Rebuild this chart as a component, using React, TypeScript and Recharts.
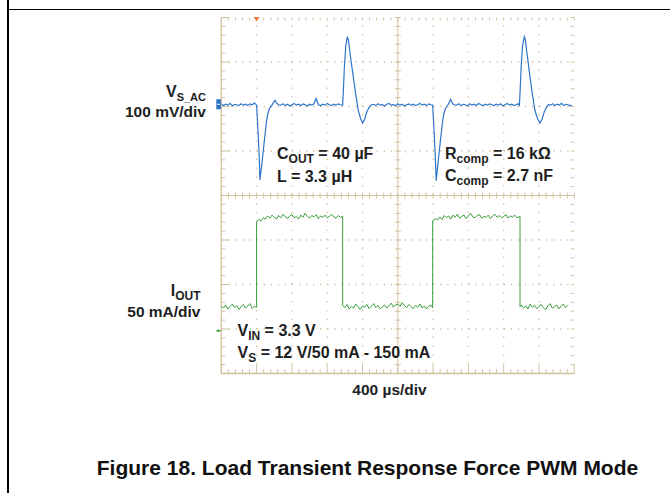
import React from 'react';
import { LineChart, Line, XAxis, YAxis, ReferenceLine, ReferenceDot } from 'recharts';

// Time axis in microseconds (400 µs/div, 10 div); vertical axis in screen divisions (8 div)
const timeDivTicks = [0, 400, 800, 1200, 1600, 2000, 2400, 2800, 3200, 3600, 4000];
const screenDivTicks = [-4, -3, -2, -1, 0, 1, 2, 3, 4];

// V_S_AC trace (100 mV/div), position in divisions
const vsAcTime = [
  0, 25, 50, 75, 100, 125, 150, 175, 200, 225, 250, 275, 300, 325, 350, 375, 400,
  412, 427, 438, 457, 476, 495, 514, 530, 544, 560, 575, 590, 608, 625, 646,
  675, 700, 725, 750, 775, 800, 825, 850, 875, 900, 925, 950, 975, 1000, 1025, 1050, 1075, 1100, 1125, 1150,
  1175, 1200, 1225, 1250, 1275, 1300, 1325, 1350, 1375,
  1383, 1395, 1410, 1428, 1440, 1465, 1496, 1525, 1552, 1580, 1602, 1625, 1650, 1675, 1704,
  1725, 1750, 1775, 1800, 1825, 1850, 1875, 1900, 1925, 1950, 1975, 2000, 2025, 2050, 2075, 2100, 2125,
  2150, 2175, 2200, 2225, 2250, 2275, 2300, 2325, 2350, 2375,
  2395, 2407, 2422, 2435, 2452, 2471, 2490, 2509, 2525, 2539, 2555, 2572, 2599, 2620, 2640,
  2665, 2690, 2715, 2740, 2765, 2790, 2815, 2840, 2865, 2890, 2915, 2940, 2965, 2990, 3015, 3040, 3065,
  3090, 3115, 3140, 3165, 3190, 3215, 3240, 3265, 3290, 3315, 3340, 3365, 3378,
  3386, 3398, 3413, 3433, 3445, 3470, 3498, 3527, 3554, 3585, 3611, 3635, 3660, 3685, 3705,
  3730, 3755, 3780, 3805, 3830, 3855, 3880, 3905, 3930, 3955, 3970,
];
const vsAcValue = [
  2.06, 2.02, 2.05, 2.03, 2.07, 2.01, 2.05, 2.04, 2.02, 2.06, 2.03, 2.05, 2.02, 2.06, 2.04, 2.08, 2.03,
  1.6, 1.0, 0.35, 0.67, 1.01, 1.36, 1.69, 1.86, 1.95, 2.0, 2.03, 2.09, 2.14, 2.08, 2.04,
  2.03, 2.06, 2.02, 2.05, 2.01, 2.04, 2.07, 2.03, 2.05, 2.02, 2.06, 2.04, 2.01, 2.05, 2.03, 2.06, 2.18, 2.04, 2.02, 2.05,
  2.03, 2.07, 2.04, 2.02, 2.05, 2.03, 2.06, 2.04, 2.03,
  2.35, 2.9, 3.35, 3.57, 3.5, 3.1, 2.66, 2.25, 1.91, 1.72, 1.63, 1.72, 1.88, 1.98, 2.04,
  2.05, 2.02, 2.06, 2.03, 2.04, 2.01, 2.05, 2.07, 2.03, 2.04, 2.02, 2.06, 2.03, 2.05, 2.01, 2.04, 2.06,
  2.03, 2.05, 2.02, 2.04, 2.07, 2.03, 2.05, 2.02, 2.06, 2.04,
  2.03, 1.6, 1.0, 0.33, 0.67, 1.01, 1.36, 1.69, 1.86, 1.95, 2.0, 2.05, 2.16, 2.06, 2.04,
  2.03, 2.06, 2.02, 2.05, 2.04, 2.01, 2.06, 2.03, 2.05, 2.02, 2.07, 2.04, 2.02, 2.05, 2.03, 2.06, 2.04,
  2.02, 2.05, 2.03, 2.06, 2.01, 2.04, 2.07, 2.03, 2.05, 2.02, 2.04, 2.06, 2.03,
  2.35, 2.9, 3.35, 3.57, 3.5, 3.1, 2.66, 2.25, 1.91, 1.72, 1.63, 1.72, 1.88, 1.98, 2.04,
  2.03, 2.06, 2.02, 2.05, 2.03, 2.07, 2.02, 2.05, 2.04, 2.01, 2.04,
];

// I_OUT trace (50 mA/div), position in divisions
const iOutTime = [
  0, 25, 50, 75, 100, 125, 150, 175, 200, 225, 250, 275, 300, 325, 350, 375, 400,
  400, 425, 450, 475, 500, 525, 550, 575, 600, 625, 650, 675, 700, 725, 750, 775, 800, 825, 850, 875,
  900, 925, 950, 975, 1000, 1025, 1050, 1075, 1100, 1125, 1150, 1175, 1200, 1225, 1250, 1275, 1300, 1325, 1350, 1375,
  1375, 1400, 1425, 1450, 1475, 1500, 1525, 1550, 1575, 1600, 1625, 1650, 1675, 1700, 1725, 1750, 1775, 1800,
  1825, 1850, 1875, 1900, 1925, 1950, 1975, 2000, 2025, 2050, 2075, 2100, 2125, 2150, 2175, 2200, 2225, 2250,
  2275, 2300, 2325, 2350, 2375, 2395,
  2395, 2425, 2450, 2475, 2500, 2525, 2550, 2575, 2600, 2625, 2650, 2675, 2700, 2725, 2750, 2775, 2800, 2825,
  2850, 2875, 2900, 2925, 2950, 2975, 3000, 3025, 3050, 3075, 3100, 3125, 3150, 3175, 3200, 3225, 3250, 3275,
  3300, 3325, 3350, 3385,
  3385, 3400, 3425, 3450, 3475, 3500, 3525, 3550, 3575, 3600, 3625, 3650, 3675, 3700, 3725, 3750, 3775, 3800,
  3825, 3850, 3875, 3900, 3925,
];
const iOutValue = [
  -2.48, -2.53, -2.46, -2.55, -2.49, -2.44, -2.52, -2.47, -2.56, -2.5, -2.45, -2.53, -2.48, -2.43, -2.54, -2.49, -2.51,
  -0.58, -0.54, -0.57, -0.5, -0.53, -0.46, -0.51, -0.44, -0.49, -0.53, -0.45, -0.5, -0.42, -0.48, -0.52, -0.46, -0.43, -0.5, -0.47, -0.53,
  -0.44, -0.49, -0.4, -0.47, -0.51, -0.45, -0.48, -0.43, -0.52, -0.46, -0.49, -0.44, -0.5, -0.47, -0.42, -0.48, -0.51, -0.45, -0.49, -0.47,
  -2.47, -2.52, -2.45, -2.55, -2.49, -2.53, -2.44, -2.5, -2.56, -2.48, -2.51, -2.45, -2.54, -2.49, -2.43, -2.52, -2.47, -2.55,
  -2.5, -2.46, -2.53, -2.48, -2.42, -2.51, -2.46, -2.44, -2.49, -2.41, -2.47, -2.52, -2.45, -2.5, -2.54, -2.47, -2.51, -2.44,
  -2.53, -2.48, -2.55, -2.49, -2.46, -2.52,
  -0.57, -0.52, -0.55, -0.48, -0.54, -0.45, -0.5, -0.46, -0.53, -0.44, -0.49, -0.42, -0.51, -0.47, -0.44, -0.52, -0.46, -0.4,
  -0.48, -0.5, -0.45, -0.43, -0.51, -0.47, -0.49, -0.44, -0.52, -0.46, -0.42, -0.49, -0.45, -0.5, -0.47, -0.43, -0.51, -0.46,
  -0.48, -0.44, -0.5, -0.47,
  -2.5, -2.46, -2.53, -2.48, -2.55, -2.44, -2.51, -2.47, -2.54, -2.49, -2.45, -2.52, -2.57, -2.48, -2.43, -2.53, -2.5, -2.46,
  -2.55, -2.49, -2.44, -2.52, -2.47,
];

const vsAcData = vsAcTime.map((t, i) => ({ t, v: vsAcValue[i] }));
const iOutData = iOutTime.map((t, i) => ({ t, v: iOutValue[i] }));

// plot geometry
const W = 670;
const H = 493;
const PL = 221.3, PR = 574.3, PT = 17.5, PB = 373.5;
const usPerPx = 4000 / (PR - PL);
const divPerPx = 8 / (PB - PT);

const GRID = '#d0c3a0';
const DOT = '#cdc09c';
const minorT = Array.from({ length: 51 }, (_, i) => i * 80);
const minorV = Array.from({ length: 41 }, (_, i) => Math.round((-4 + i * 0.2) * 10) / 10);
const isMajT = (t: number) => t % 400 === 0;
const isMajV = (v: number) => Math.abs(v - Math.round(v)) < 1e-6;

type Seg = [{ x: number; y: number }, { x: number; y: number }];
const tickSegs: Seg[] = [];
minorT.forEach((t) => {
  tickSegs.push([{ x: t, y: -4 }, { x: t, y: -4 + (isMajT(t) ? 9 : 4.3) * divPerPx }]);
  tickSegs.push([{ x: t, y: 4 }, { x: t, y: 4 - 3 * divPerPx }]);
  tickSegs.push([{ x: t, y: -3 * divPerPx }, { x: t, y: 3 * divPerPx }]);
});
minorV.forEach((v) => {
  tickSegs.push([{ x: 0, y: v }, { x: (isMajV(v) ? 8 : 4) * usPerPx, y: v }]);
  tickSegs.push([{ x: 4000, y: v }, { x: 4000 - 3.5 * usPerPx, y: v }]);
  tickSegs.push([{ x: 2000 - 3 * usPerPx, y: v }, { x: 2000 + 3 * usPerPx, y: v }]);
});

const dottedT = timeDivTicks.filter((t) => t !== 0 && t !== 2000 && t !== 4000);
const dottedV = screenDivTicks.filter((v) => v !== 0 && v !== 4 && v !== -4);

const FONT = '"Liberation Sans", Arial, Helvetica, sans-serif';
const TXT = '#1e1e1e';

const TriggerMark = (p: any) => (
  <polygon points={`${p.cx - 3},${p.cy - 0.5} ${p.cx + 3},${p.cy - 0.5} ${p.cx},${p.cy + 4}`} fill="#f07a3c" />
);
const BlueMark = (p: any) => (
  <g>
    <rect x={p.cx - 5} y={p.cy - 5} width={4.6} height={10} fill="#2f6fc2" />
    <line x1={p.cx - 4.2} x2={p.cx - 1.2} y1={p.cy} y2={p.cy} stroke="#fff" strokeWidth={1} />
  </g>
);
const GreenMark = (p: any) => (
  <g>
    <line x1={p.cx - 5} x2={p.cx} y1={p.cy} y2={p.cy} stroke="#3a9c3a" strokeWidth={1} />
    <circle cx={p.cx - 3} cy={p.cy} r={1.3} fill="#3a9c3a" />
  </g>
);

export default function App() {
  return (
    <div style={{ position: 'absolute', left: 0, top: 0, width: W, height: H, background: '#fff', overflow: 'hidden' }}>
      <div style={{ position: 'absolute', left: 7.3, top: 0, width: 1.5, height: H, background: '#000' }} />
      <div style={{ position: 'absolute', left: 7.3, top: 8.9, width: W - 7.3, height: 1.5, background: '#000' }} />
      <div style={{ position: 'absolute', left: 0, top: 0 }}>
        <LineChart width={W} height={H} margin={{ top: PT, left: PL, right: W - PR, bottom: H - PB }}>
          <XAxis type="number" dataKey="t" domain={[0, 4000]} ticks={timeDivTicks} hide allowDataOverflow />
          <YAxis type="number" domain={[-4, 4]} ticks={screenDivTicks} hide allowDataOverflow />
          {dottedT.map((t) => (
            <ReferenceLine key={'dt' + t} x={t} stroke={DOT} strokeWidth={1.3} strokeDasharray="1.3 7.6" ifOverflow="visible" />
          ))}
          {dottedV.map((v) => (
            <ReferenceLine key={'dv' + v} y={v} stroke={DOT} strokeWidth={1.3} strokeDasharray="1.3 5.76" ifOverflow="visible" />
          ))}
          <ReferenceLine x={0} stroke={GRID} strokeWidth={1.3} ifOverflow="visible" />
          <ReferenceLine y={-4} stroke={GRID} strokeWidth={1.3} ifOverflow="visible" />
          <ReferenceLine x={2000} stroke={GRID} strokeWidth={1} ifOverflow="visible" />
          <ReferenceLine y={0} stroke={GRID} strokeWidth={1} ifOverflow="visible" />
          {tickSegs.map((s, i) => (
            <ReferenceLine key={'tk' + i} segment={s} stroke={GRID} strokeWidth={1} ifOverflow="visible" />
          ))}
          <Line data={iOutData} dataKey="v" type="linear" dot={false} stroke="#3a9c3a" strokeWidth={1} isAnimationActive={false} />
          <Line data={vsAcData} dataKey="v" type="linear" dot={false} stroke="#2f74c8" strokeWidth={1.2} isAnimationActive={false} />
          <ReferenceDot x={400} y={4} r={3} shape={TriggerMark} ifOverflow="visible" />
          <ReferenceDot x={0} y={2.05} r={3} shape={BlueMark} ifOverflow="visible" />
          <ReferenceDot x={0} y={-3.04} r={2} shape={GreenMark} ifOverflow="visible" />
        </LineChart>
      </div>
      <svg width={W} height={H} style={{ position: 'absolute', left: 0, top: 0, pointerEvents: 'none' }}
        fontFamily={FONT} fontWeight="bold" fill={TXT}>
        <text x={206} y={97} textAnchor="end" fontSize={16}>
          V<tspan fontSize={11} dy={4}>S_AC</tspan>
        </text>
        <text x={206} y={117} textAnchor="end" fontSize={15.5}>100 mV/div</text>
        <text x={200.5} y={296} textAnchor="end" fontSize={16}>
          I<tspan fontSize={12} dy={4}>OUT</tspan>
        </text>
        <text x={200.5} y={317} textAnchor="end" fontSize={15.5}>50 mA/div</text>

        <text x={277} y={159.3} fontSize={16} style={{ whiteSpace: 'pre' }}>
          C<tspan fontSize={12} dy={4}>OUT</tspan><tspan dy={-4}> = 40 µF</tspan>
        </text>
        <text x={277} y={181.5} fontSize={16}>L = 3.3 µH</text>
        <text x={445} y={158.5} fontSize={16} style={{ whiteSpace: 'pre' }}>
          R<tspan fontSize={12} dy={4}>comp</tspan><tspan dy={-4}> = 16 kΩ</tspan>
        </text>
        <text x={445} y={180.5} fontSize={16} style={{ whiteSpace: 'pre' }}>
          C<tspan fontSize={12} dy={4}>comp</tspan><tspan dy={-4}> = 2.7 nF</tspan>
        </text>
        <text x={237.5} y={335.5} fontSize={16} style={{ whiteSpace: 'pre' }}>
          V<tspan fontSize={12} dy={4}>IN</tspan><tspan dy={-4}> = 3.3 V</tspan>
        </text>
        <text x={237.5} y={358} fontSize={16} style={{ whiteSpace: 'pre' }}>
          V<tspan fontSize={12} dy={4}>S</tspan><tspan dy={-4}> = 12 V/50 mA - 150 mA</tspan>
        </text>
        <text x={389.5} y={395} textAnchor="middle" fontSize={15.5}>400 µs/div</text>
        <text x={367.5} y={474.5} textAnchor="middle" fontSize={21} fill="#111">
          Figure 18. Load Transient Response Force PWM Mode
        </text>
      </svg>
    </div>
  );
}
